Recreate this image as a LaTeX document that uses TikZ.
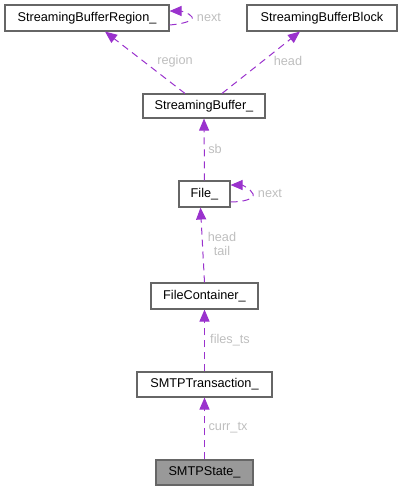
\documentclass[tikz,border=0pt]{standalone}
\usepackage{fontspec}
\setmainfont{Liberation Sans}
\usetikzlibrary{arrows.meta}
\definecolor{edgec}{HTML}{9A32CD}
\definecolor{labc}{HTML}{BEBEBE}
\definecolor{boxc}{HTML}{666666}
\tikzset{
  cls/.style={draw=boxc, line width=1.1pt, fill=white, inner sep=0pt, font=\fontsize{12.7}{14}\selectfont, text=black},
  cur/.style={cls, fill=black!40},
  rel/.style={draw=edgec, line width=1pt, dash pattern=on 7pt off 5pt, -{Triangle[length=12pt,width=10pt,fill=edgec]}},
  lab/.style={text=labc, font=\fontsize{12.7}{14}\selectfont, inner sep=0pt, align=center}
}
\begin{document}
\begin{tikzpicture}[x=1pt,y=-1pt]
\useasboundingbox (0,0) rectangle (402,491);
\node[cls, minimum width=164pt, minimum height=26pt] (sbr) at (87,18) {StreamingBufferRegion\_};
\node[cls, minimum width=150pt, minimum height=26pt] (sbb) at (322,18) {StreamingBufferBlock};
\node[cls, minimum width=122pt, minimum height=24pt] (sb) at (204,106) {StreamingBuffer\_};
\node[cls, minimum width=51pt, minimum height=26pt] (file) at (204.5,194) {File\_};
\node[cls, minimum width=107pt, minimum height=26pt] (fc) at (204.5,296) {FileContainer\_};
\node[cls, minimum width=135pt, minimum height=25pt] (tx) at (204.5,384.5) {SMTPTransaction\_};
\node[cur, minimum width=97pt, minimum height=25pt] (st) at (204.5,472.5) {SMTPState\_};

\draw[rel] ([xshift=-19pt]sb.north) -- ([xshift=18pt]sbr.south);
\node[lab] (l1) at (175,61) {region};
\draw[rel] ([xshift=18pt]sb.north) -- ([xshift=-22pt]sbb.south);
\node[lab] (l2) at (288,61) {head};
\draw[rel] ([yshift=-7pt]sbr.east) .. controls (182,24) and (194,21) .. (192,17) .. controls (190,13) and (180,11) .. ([yshift=7pt]sbr.east);
\node[lab] (l3) at (209,17) {next};
\draw[rel] (file.north) -- (sb.south);
\node[lab] (l4) at (215,149) {sb};
\draw[rel] ([yshift=-8pt]file.east) .. controls (243,202) and (255,199) .. (253,194) .. controls (251,189) and (242,185) .. ([yshift=9pt]file.east);
\node[lab] (l5) at (270,193) {next};
\draw[rel] ([xshift=0pt]fc.north) -- ([xshift=-4pt]file.south);
\node[lab] (l6) at (222,244) {head\\tail};
\draw[rel] (tx.north) -- (fc.south);
\node[lab] (l7) at (230,340) {files\_ts};
\draw[rel] (st.north) -- (tx.south);
\node[lab] (l8) at (228,428) {curr\_tx};
\end{tikzpicture}
\end{document}
